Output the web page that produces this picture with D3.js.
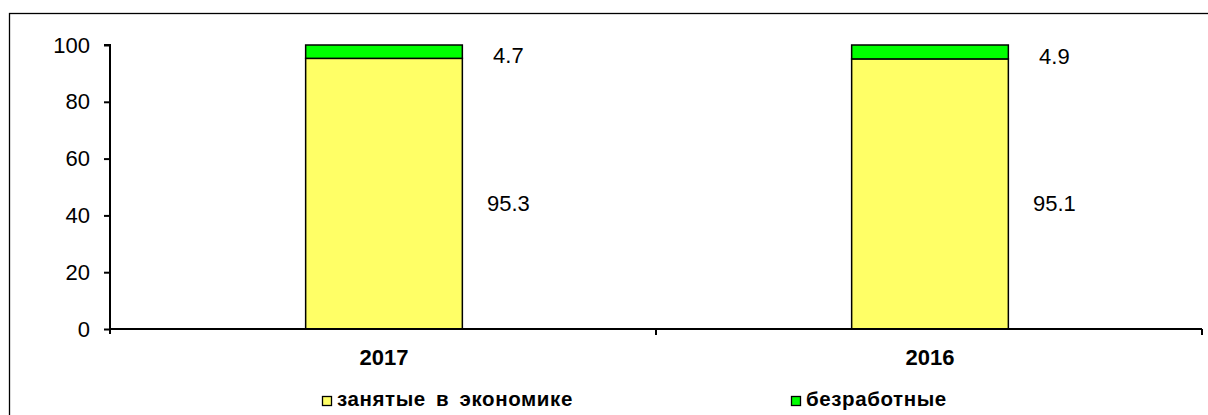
<!DOCTYPE html>
<html><head><meta charset="utf-8">
<script src="https://cdn.jsdelivr.net/npm/d3@7"></script>
<style>body{margin:0;background:#fff}svg{display:block}text{font-family:"Liberation Sans",Arial,sans-serif}</style>
</head><body><svg id="c" width="1208" height="415"></svg>
<script>
const categories = ["2017", "2016"];
const employed = [95.3, 95.1];
const unemployed = [4.7, 4.9];
const seriesNames = ["занятые в экономике", "безработные"];
const seriesColors = ["#ffff66", "#00ff00"];
const yTicks = [0, 20, 40, 60, 80, 100];

const svg = d3.select("#c");
svg.append("rect").attr("x", 9.5).attr("y", 13.5).attr("width", 1210).attr("height", 420)
  .attr("fill", "none").attr("stroke", "#000").attr("stroke-width", 1.3);

const m = {l: 110, r: 1202, t: 45, b: 329};
const x = d3.scaleBand().domain(categories).range([m.l, m.r]).paddingInner(0).paddingOuter(0);
const y = d3.scaleLinear().domain([0, 100]).range([m.b, m.t]);
const barW = x.bandwidth() * 0.287;
const cx = c => x(c) + x.bandwidth() / 2 + 1;

const stack = categories.map((c, i) => [
  {c, y0: 0, y1: employed[i], v: employed[i], s: 0},
  {c, y0: employed[i], y1: employed[i] + unemployed[i], v: unemployed[i], s: 1}
]).flat();

const g = svg.append("g");
g.selectAll("rect.bar").data(stack).join("rect")
  .attr("x", d => cx(d.c) - barW / 2)
  .attr("y", d => y(d.y1))
  .attr("width", barW)
  .attr("height", d => y(d.y0) - y(d.y1))
  .attr("fill", d => seriesColors[d.s])
  .attr("stroke", "#000").attr("stroke-width", 1.5);

g.selectAll("text.lbl").data(stack).join("text")
  .attr("x", d => cx(d.c) + barW / 2 + 46)
  .attr("y", d => y((d.y0 + d.y1) / 2) + (d.s === 0 ? 9.5 : 4))
  .attr("dy", "0.35em").attr("text-anchor", "middle")
  .attr("font-size", 22).attr("fill", "#000")
  .text(d => d.v.toFixed(1));

// y axis
const ya = svg.append("g").attr("transform", `translate(${m.l},0)`)
  .call(d3.axisLeft(y).tickValues(yTicks).tickSize(6).tickPadding(14));
ya.select(".domain").attr("stroke-width", 2).attr("d", `M-6,${m.t}H0V${m.b + 5}`);
ya.selectAll(".tick line").attr("stroke-width", 2);
ya.selectAll("text").attr("font-size", 22).attr("fill", "#000");

// x axis
const xa = svg.append("g").attr("transform", `translate(0,${m.b})`);
xa.append("line").attr("x1", m.l).attr("x2", m.r).attr("stroke", "#000").attr("stroke-width", 2);
const bounds = categories.map(c => x(c) + x.bandwidth());
xa.selectAll("line.tk").data(bounds).join("line")
  .attr("x1", d => d).attr("x2", d => d).attr("y1", 0).attr("y2", 6)
  .attr("stroke", "#000").attr("stroke-width", 2);
xa.selectAll("text").data(categories).join("text")
  .attr("x", d => cx(d)).attr("y", 36)
  .attr("text-anchor", "middle").attr("font-size", 22).attr("font-weight", "bold")
  .text(d => d);

// legend
const legX = [322, 791];
const lg = svg.append("g");
seriesNames.forEach((n, i) => {
  lg.append("rect").attr("x", legX[i] + 0.5).attr("y", 396.5).attr("width", 9).attr("height", 9)
    .attr("fill", seriesColors[i]).attr("stroke", "#000").attr("stroke-width", 1.3);
  lg.append("text").attr("x", legX[i] + 15).attr("y", 406)
    .attr("font-size", 20.5).attr("font-weight", "bold")
    .attr("letter-spacing", 0.6).attr("word-spacing", 4).text(n);
});
</script></body></html>
